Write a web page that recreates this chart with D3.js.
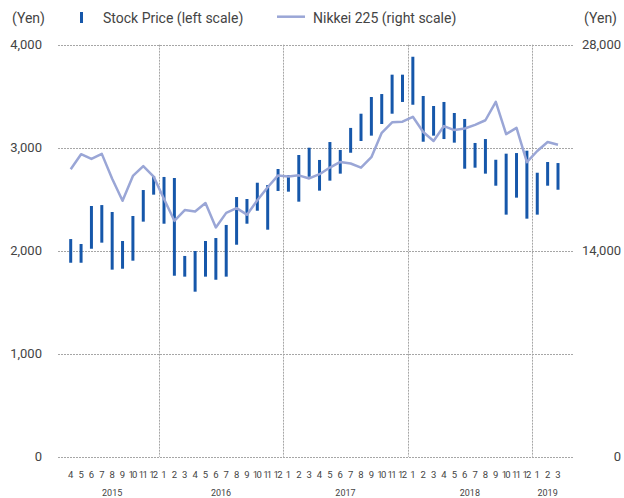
<!DOCTYPE html>
<html>
<head>
<meta charset="utf-8">
<script src="https://cdn.jsdelivr.net/npm/d3@7"></script>
<style>
  body { margin: 0; background: #fff; }
  text { font-family: Roboto, "Liberation Sans", sans-serif; fill: #444; }
</style>
</head>
<body>
<script>
// months Apr 2015 .. Mar 2019
var months = ['4','5','6','7','8','9','10','11','12',
  '1','2','3','4','5','6','7','8','9','10','11','12',
  '1','2','3','4','5','6','7','8','9','10','11','12',
  '1','2','3','4','5','6','7','8','9','10','11','12',
  '1','2','3'];
var years = [
  { label: '2015', from: 0, to: 8 },
  { label: '2016', from: 9, to: 20 },
  { label: '2017', from: 21, to: 32 },
  { label: '2018', from: 33, to: 44 },
  { label: '2019', from: 45, to: 47 }
];

// monthly high / low of the stock (left scale)
var stockHigh = [2113, 2065, 2434, 2443, 2376, 2094, 2337, 2589, 2725,
  2716, 2706, 1949, 1997, 2094, 2123, 2250, 2521, 2502, 2660, 2638, 2793,
  2735, 2929, 3000, 2881, 3055, 2978, 3192, 3330, 3492, 3521, 3709, 3709,
  3883, 3502, 3405, 3444, 3337, 3279, 3046, 3084, 2883, 2942, 2948, 2971,
  2757, 2861, 2851];
var stockLow = [1883, 1883, 2019, 2078, 1816, 1825, 1903, 2282, 2544,
  2262, 1757, 1748, 1602, 1748, 1718, 1748, 2058, 2262, 2388, 2204, 2580,
  2573, 2476, 2718, 2583, 2680, 2748, 2951, 3065, 3117, 3230, 3330, 3444,
  3417, 3058, 3117, 3084, 3049, 2796, 2806, 2748, 2631, 2350, 2515, 2311,
  2350, 2631, 2592];

// Nikkei 225 month end (right scale)
var nikkei = [19530, 20560, 20235, 20580, 18890, 17390, 19080, 19745, 19035,
  17520, 16030, 16760, 16670, 17235, 15580, 16570, 16890, 16450, 17425, 18310, 19115,
  19040, 19120, 18910, 19200, 19650, 20035, 19925, 19645, 20355, 22010, 22725, 22765,
  23100, 22070, 21455, 22470, 22200, 22305, 22555, 22865, 24120, 21920, 22350, 20015,
  20775, 21385, 21205];

var leftTicks = [0, 1000, 2000, 3000, 4000];
var rightTicks = [0, 14000, 28000];

var settings = { w: 624, h: 498, top: 44.7, bottom: 456.7, left: 58, right: 573 };

var svg = d3.select('body').append('svg')
  .attr('width', settings.w)
  .attr('height', settings.h);

var x = d3.scaleLinear().domain([0, 47]).range([70.7, 558]);
var yL = d3.scaleLinear().domain([0, 4000]).range([settings.bottom, settings.top]);
var yR = d3.scaleLinear().domain([0, 28000]).range([settings.bottom, settings.top]);

// grid
svg.append('g').selectAll('line')
  .data(leftTicks)
  .enter().append('line')
  .attr('x1', settings.left).attr('x2', settings.right)
  .attr('y1', function(d) { return Math.round(yL(d)) + 0.5; })
  .attr('y2', function(d) { return Math.round(yL(d)) + 0.5; })
  .attr('stroke', '#a6a6a6')
  .attr('stroke-dasharray', '2,1');

svg.append('g').selectAll('line')
  .data(years.slice(1))
  .enter().append('line')
  .attr('x1', function(d) { return Math.round(x(d.from - 0.5)) + 0.5; })
  .attr('x2', function(d) { return Math.round(x(d.from - 0.5)) + 0.5; })
  .attr('y1', settings.top).attr('y2', settings.bottom)
  .attr('stroke', '#a6a6a6')
  .attr('stroke-dasharray', '2,1');

// left axis labels
svg.append('g').selectAll('text')
  .data(leftTicks)
  .enter().append('text')
  .attr('x', 42)
  .attr('y', function(d) { return yL(d); })
  .attr('dy', '0.35em')
  .attr('text-anchor', 'end')
  .style('font-size', '13px')
  .text(d3.format(','));

// right axis labels
svg.append('g').selectAll('text')
  .data(rightTicks)
  .enter().append('text')
  .attr('x', 621)
  .attr('y', function(d) { return yR(d); })
  .attr('dy', '0.35em')
  .attr('text-anchor', 'end')
  .style('font-size', '13px')
  .text(d3.format(','));

// stock bars
svg.append('g').selectAll('line')
  .data(stockHigh)
  .enter().append('line')
  .attr('x1', function(d, i) { return x(i); })
  .attr('x2', function(d, i) { return x(i); })
  .attr('y1', function(d) { return yL(d); })
  .attr('y2', function(d, i) { return yL(stockLow[i]); })
  .attr('stroke', '#1657aa')
  .attr('stroke-width', 3);

// nikkei line
var line = d3.line()
  .x(function(d, i) { return x(i); })
  .y(function(d) { return yR(d); });

svg.append('path')
  .datum(nikkei)
  .attr('d', line)
  .attr('fill', 'none')
  .attr('stroke', '#9aa6d6')
  .attr('stroke-width', 2.5)
  .attr('stroke-linejoin', 'round');

// month labels
svg.append('g').selectAll('text')
  .data(months)
  .enter().append('text')
  .attr('x', function(d, i) { return x(i); })
  .attr('y', 478)
  .attr('text-anchor', 'middle')
  .style('font-size', '9.5px')
  .attr('textLength', function(d) { return d.length > 1 ? 9 : null; })
  .text(function(d) { return d; });

svg.append('g').selectAll('text')
  .data(years)
  .enter().append('text')
  .attr('x', function(d) { return x((d.from + d.to) / 2); })
  .attr('y', 496)
  .attr('text-anchor', 'middle')
  .style('font-size', '9px')
  .text(function(d) { return d.label; });

// header
svg.append('text').attr('x', 12).attr('y', 23).style('font-size', '14px').text('(Yen)');
svg.append('text').attr('x', 617).attr('y', 23).attr('text-anchor', 'end').style('font-size', '14px').text('(Yen)');

svg.append('line')
  .attr('x1', 81.5).attr('x2', 81.5).attr('y1', 12).attr('y2', 23)
  .attr('stroke', '#1657aa').attr('stroke-width', 3);
svg.append('text').attr('x', 103).attr('y', 23).style('font-size', '14px').text('Stock Price (left scale)');

svg.append('line')
  .attr('x1', 277).attr('x2', 305).attr('y1', 16.7).attr('y2', 16.7)
  .attr('stroke', '#9aa6d6').attr('stroke-width', 2.5);
svg.append('text').attr('x', 313).attr('y', 23).style('font-size', '14px').text('Nikkei 225 (right scale)');
</script>
</body>
</html>
